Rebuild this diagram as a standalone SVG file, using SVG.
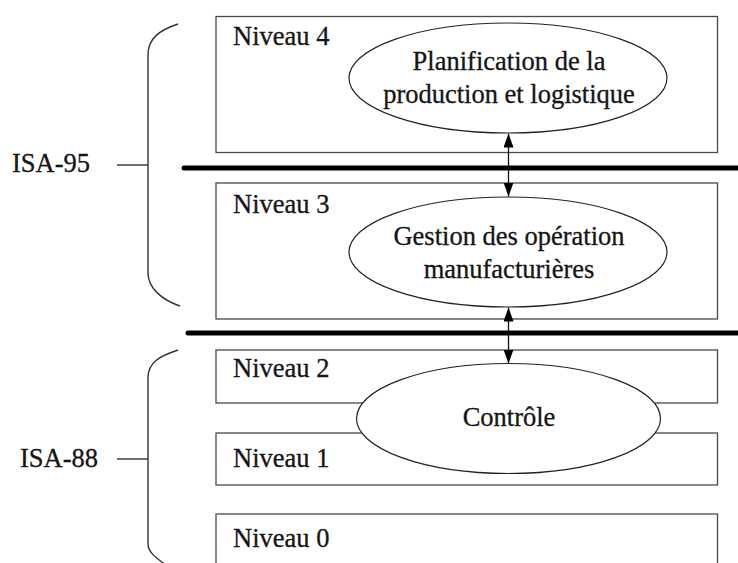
<svg xmlns="http://www.w3.org/2000/svg" width="738" height="563" viewBox="0 0 738 563">
  <style>
    .box { fill: #ffffff; stroke: #4a4a4a; stroke-width: 1.3; }
    .ell { fill: #ffffff; stroke: #222222; stroke-width: 1.2; }
    .txt { font-family: 'Liberation Serif', 'Times New Roman', Times, serif; font-size: 26.5px; fill: #151515; stroke: #151515; stroke-width: 0.3; }
    .mid { text-anchor: middle; }
    .bar { stroke: #000000; stroke-width: 5; stroke-linecap: round; }
    .brace { fill: none; stroke: #333333; stroke-width: 1.4; }
    .conn { stroke: #111111; stroke-width: 1.3; fill: none; }
  </style>
  <defs>
    <marker id="ah" viewBox="0 0 14 10" refX="14" refY="5" markerWidth="14" markerHeight="10" markerUnits="userSpaceOnUse" orient="auto-start-reverse">
      <path d="M0,0 L14,5 L0,10 Z" fill="#000000"/>
    </marker>
  </defs>

  <rect width="738" height="563" fill="#ffffff"/>

  <!-- braces -->
  <g id="isa95">
    <path class="brace" d="M178,24 C160,30 148,38 148,55 L148,273 C148,288 162,300 180,306"/>
    <line class="brace" x1="117" y1="165" x2="148" y2="165"/>
    <text class="txt" x="12" y="172">ISA-95</text>
  </g>
  <g id="isa88">
    <path class="brace" d="M178,350 C160,356 148,362 148,378 L148,544 C148,552 156,558 166,565"/>
    <line class="brace" x1="117" y1="459" x2="148" y2="459"/>
    <text class="txt" x="20" y="467">ISA-88</text>
  </g>

  <!-- level boxes -->
  <g id="niveau4">
    <rect class="box" x="216" y="16.5" width="501.5" height="136"/>
    <text class="txt" x="233" y="45">Niveau 4</text>
  </g>
  <g id="niveau3">
    <rect class="box" x="216" y="183" width="501.5" height="136"/>
    <text class="txt" x="233" y="213">Niveau 3</text>
  </g>
  <g id="niveau2">
    <rect class="box" x="216" y="350" width="501.5" height="53"/>
    <text class="txt" x="233" y="377">Niveau 2</text>
  </g>
  <g id="niveau1">
    <rect class="box" x="216" y="433" width="501.5" height="52"/>
    <text class="txt" x="233" y="467">Niveau 1</text>
  </g>
  <g id="niveau0">
    <rect class="box" x="216" y="514" width="501.5" height="80"/>
    <text class="txt" x="233" y="547">Niveau 0</text>
  </g>

  <!-- separator bars -->
  <g id="separators">
    <line class="bar" x1="184" y1="168" x2="745" y2="168"/>
    <line class="bar" x1="188" y1="333" x2="745" y2="333"/>
  </g>

  <!-- ellipses -->
  <g id="planification">
    <ellipse class="ell" cx="508" cy="78" rx="159" ry="55"/>
    <text class="txt mid" x="509" y="70">Planification de la</text>
    <text class="txt mid" x="509" y="103">production et logistique</text>
  </g>
  <g id="gestion">
    <ellipse class="ell" cx="508" cy="252" rx="159" ry="55"/>
    <text class="txt mid" x="509" y="245">Gestion des opération</text>
    <text class="txt mid" x="509" y="278">manufacturières</text>
  </g>
  <g id="controle">
    <ellipse class="ell" cx="508.5" cy="418.5" rx="152" ry="55"/>
    <text class="txt mid" x="509" y="426">Contrôle</text>
  </g>

  <!-- connectors -->
  <g id="connectors">
    <line class="conn" x1="508.5" y1="133.5" x2="508.5" y2="196.5" marker-start="url(#ah)" marker-end="url(#ah)"/>
    <line class="conn" x1="508.5" y1="307.5" x2="508.5" y2="363.5" marker-start="url(#ah)" marker-end="url(#ah)"/>
  </g>
</svg>
